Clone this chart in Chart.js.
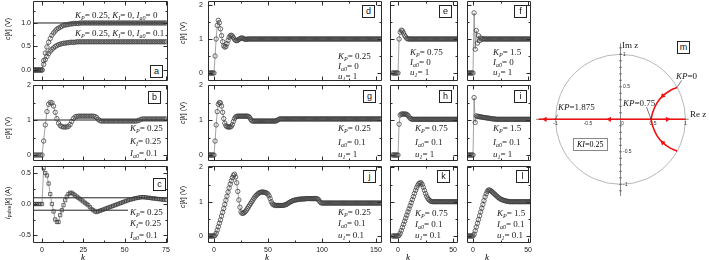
<!DOCTYPE html>
<html>
<head>
<meta charset="utf-8">
<script src="https://cdn.jsdelivr.net/npm/chart.js@4.4.1/dist/chart.umd.min.js"></script>
<style>
  html, body { margin: 0; padding: 0; background: #fff; }
  body { position: relative; width: 709px; height: 260px; overflow: hidden; }
  canvas { position: absolute; }
  .note { position: absolute; white-space: nowrap; font: 9px "Liberation Serif", serif; color: #1a1a1a; line-height: 1; transform: translateY(-50%); }
  .note i { font-style: italic; }
  .note sub { font-size: 6px; vertical-align: -2px; font-style: italic; line-height: 0; }
  .tag { position: absolute; width: 11px; height: 11px; border: 1px solid #222; font: 9px "Liberation Sans", sans-serif; text-align: center; line-height: 11px; background: #fff; color: #111; }
  .ytitle { position: absolute; white-space: nowrap; font: 7px "Liberation Sans", sans-serif; color: #1a1a1a; transform: translate(-50%, -50%) rotate(-90deg); line-height: 1; }
  .ytitle sub { font-size: 5px; vertical-align: -1px; line-height: 0; }
  .ktitle { position: absolute; font: italic 9px "Liberation Serif", serif; transform: translate(-50%, -50%); line-height: 1; }
  .kibox { position: absolute; border: 1px solid #888; font: 8px "Liberation Serif", serif; padding: 1px 3px; white-space: nowrap; }
</style>
</head>
<body>
<script>
// every series starts at k = -5, one value per sample
const kStart = -5;

// panel a
const seriesA0 = [0,0,0,0,0,0,
  0.2,0.36,0.49,0.59,0.67,0.74,0.79,0.83,0.87,0.89,
  0.91,0.93,0.95,0.96,0.96,0.97,0.98,0.98,0.99,0.99,
  0.99,0.99,1,1,1,1,1,1,1,1,
  1,1,1,1,1,1,1,1,1,1, 1,1,1,1,1,1,1,1,1,1,
  1,1,1,1,1,1,1,1,1,1, 1,1,1,1,1,1,1,1,1,1, 1,1,1,1,1];
const seriesA1 = [0,0,0,0,0,0,
  0.12,0.22,0.29,0.35,0.4,0.44,0.47,0.5,0.52,0.54,
  0.55,0.56,0.57,0.57,0.58,0.58,0.59,0.59,0.59,0.59,
  0.6,0.6,0.6,0.6,0.6,0.6,0.6,0.6,0.6,0.6, 0.6,0.6,0.6,0.6,0.6,0.6,0.6,0.6,0.6,0.6,
  0.6,0.6,0.6,0.6,0.6,0.6,0.6,0.6,0.6,0.6, 0.6,0.6,0.6,0.6,0.6,0.6,0.6,0.6,0.6,0.6,
  0.6,0.6,0.6,0.6,0.6,0.6,0.6,0.6,0.6,0.6, 0.6,0.6,0.6,0.6,0.6];
// panel b
const seriesB = [0,0,0,0,0,0,
  0.4,0.86,1.24,1.45,1.5,1.49,1.4,1.22,1.04,0.91,
  0.84,0.81,0.8,0.8,0.8,0.82,0.87,0.96,1.04,1.09,
  1.1,1.11,1.11,1.11,1.11,1.11,1.11,1.11,1.11,1.11,
  1.11,1.1,1.07,1.02,0.98,0.97,0.97,0.97,0.97,0.97,
  0.97,0.97,0.97,0.97,0.97,0.97,0.97,0.97,0.97,0.97,
  0.97,0.97,0.97,0.97,0.97,0.97,0.97,0.98,1,1.02,
  1.03,1.03,1.03,1.03,1.03,1.03,1.03,1.03,1.03,1.03,
  1.03,1.03,1.03,1.03,1.03];
// panel c (pulse current)
const seriesC = [0,0,0,0,0,0,
  0.58,0.5,0.46,0.33,0.16,0,-0.12,-0.25,-0.29,-0.29,
  -0.18,-0.1,-0.02,0.06,0.12,0.16,0.18,0.18,0.16,0.14,
  0.12,0.1,0.08,0.06,0.04,0.02,0,-0.02,-0.05,-0.08,
  -0.1,-0.12,-0.13,-0.12,-0.11,-0.1,-0.09,-0.08,-0.07,-0.06,
  -0.05,-0.04,-0.03,-0.02,-0.01,0,0.01,0.02,0.03,0.04,
  0.05,0.06,0.07,0.075,0.08,0.09,0.095,0.1,0.105,0.11,
  0.11,0.11,0.105,0.1,0.1,0.095,0.09,0.09,0.085,0.08,
  0.08,0.075,0.07,0.07,0.065];
// panel d
const seriesD = [0,0,0,0,0,0,
  0.5,1,1.4,1.55,1.48,1.3,1.1,0.92,0.8,0.76,
  0.78,0.86,0.96,1.05,1.1,1.11,1.09,1.04,0.99,0.96,
  0.95,0.96,0.99,1.01,1.03,1.03,1.02,1,0.99,0.99,
  1,1,1,1,1,1,1,1,1,1, 1,1,1,1,1,1,1,1,1,1, 1,1,1,1,1,1,1,1,1,1,
  1,1,1,1,1,1,1,1,1,1, 1,1,1,1,1,1,1,1,1,1, 1,1,1,1,1,1,1,1,1,1,
  1,1,1,1,1,1,1,1,1,1, 1,1,1,1,1,1,1,1,1,1, 1,1,1,1,1,1,1,1,1,1,
  1,1,1,1,1,1,1,1,1,1, 1,1,1,1,1,1,1,1,1,1, 1,1,1,1,1,1,1,1,1,1,
  1,1,1,1,1];
// panel g
const seriesG = [0,0,0,0,0,0,
  0.4,0.86,1.24,1.45,1.5,1.49,1.4,1.22,1.04,0.91,
  0.84,0.81,0.8,0.8,0.8,0.82,0.87,0.96,1.04,1.09,
  1.1,1.11,1.11,1.11,1.11,1.11,1.11,1.11,1.11,1.11,
  1.11,1.1,1.07,1.02,0.98,0.97,0.97,0.97,0.97,0.97,
  0.97,0.97,0.97,0.97,0.97,0.97,0.97,0.97,0.97,0.97,
  0.97,0.97,0.97,0.97,0.97,0.97,0.97,0.98,1,1.02,
  1.03,1.03,1.03,1.03,1.03,1.03,1.03,1.03,1.03,1.03,
  1.03,1.03,1.03,1.03,1.03,
  1.03,1.03,1.03,1.03,1.03,1.03,1.03,1.03,1.03,1.03,
  1.03,1.03,1.03,1.03,1.03,1.03,1.03,1.03,1.03,1.03,
  1.03,1.03,1.03,1.03,1.03,1.03,1.03,1.03,1.03,1.03,
  1.03,1.03,1.03,1.03,1.03,1.03,1.03,1.03,1.03,1.03,
  1.03,1.03,1.03,1.03,1.03,1.03,1.03,1.03,1.03,1.03,
  1.03,1.03,1.03,1.03,1.03,1.03,1.03,1.03,1.03,1.03,
  1.03,1.03,1.03,1.03,1.03,1.03,1.03,1.03,1.03,1.03,
  1.03,1.03,1.03,1.03,1.03,1.03,1.03,1.03,1.03,1.03];
// panel j
const seriesJ = [0,0,0,0,0,0,
  0.02,0.08,0.17,0.27,0.37,0.47,0.58,0.69,0.8,0.92,
  1.04,1.16,1.28,1.4,1.51,1.61,1.7,1.77,1.8,1.72,
  1.55,1.3,1.05,0.84,0.7,0.66,0.66,0.68,0.71,0.75,
  0.8,0.85,0.9,0.95,1,1.05,1.1,1.14,1.18,1.21,
  1.24,1.26,1.27,1.28,1.28,1.28,1.27,1.26,1.25,1.22,
  1.17,1.09,1,0.94,0.91,0.9,0.89,0.89,0.89,0.89,
  0.89,0.89,0.89,0.89,0.9,0.91,0.92,0.94,0.96,0.98,
  1,1.01,1.03,1.04,1.05,1.05,1.06,1.07,1.07,1.07,
  1.08,1.08,1.08,1.08,1.09,1.09,1.09,1.09,1.09,1.09,
  1.09,1.09,1.09,1.09,1.09,1.08,1.05,1,0.97,0.96,
  0.96,0.96,0.96,0.96,0.96,0.96,0.96,0.96,0.96,0.96,
  0.96,0.96,0.96,0.96,0.96,0.96,0.96,0.96,0.96,0.96,
  0.96,0.96,0.96,0.96,0.96,0.96,0.96,0.96,0.96,0.96,
  0.96,0.96,0.96,0.96,0.96,0.96,0.96,0.96,0.96,0.96,
  0.96,0.96,0.96,0.96,0.96,0.96,0.96,0.96,0.96,0.96,
  0.96,0.96,0.96,0.96,0.96];
// panels e, f
const seriesE = [0,0,0,0,0,0,
  1,1.2,1.26,1.24,1.18,1.11,1.06,1.02,1,1,
  1,1,1,1,1,1,1,1,1,1, 1,1,1,1,1,1,1,1,1,1, 1,1,1,1,1,1,1,1,1,1,
  1,1,1,1,1,1,1,1,1,1, 1,1,1,1,1];
const seriesF = [0,0,0,0,0,0,
  1.77,0.7,1.25,0.88,1.1,0.95,1.03,0.99,1.01,1,
  1,1,1,1,1,1,1,1,1,1, 1,1,1,1,1,1,1,1,1,1, 1,1,1,1,1,1,1,1,1,1,
  1,1,1,1,1,1,1,1,1,1, 1,1,1,1,1];
// panels h, i
const seriesH = [0,0,0,0,0,0,
  0.88,1.14,1.17,1.17,1.17,1.17,1.17,1.16,1.13,1.09,
  1.05,1.03,1.02,1.02,1.02,1.02,1.02,1.02,1.02,1.02,
  1.02,1.02,1.02,1.02,1.02,1.02,1.02,1.02,1.02,1.02,
  1.02,1.02,1.02,1.02,1.02,1.02,1.02,1.02,1.02,1.02,
  1.02,1.02,1.02,1.02,1.02,1.02,1.02,1.02,1.02,1.02,
  1.02,1.02,1.02,1.02,1.02];
const seriesI = [0,0,0,0,0,0,
  1.64,0.93,1.12,1.1,1.1,1.09,1.09,1.08,1.08,1.07,
  1.07,1.06,1.06,1.05,1.05,1.04,1.04,1.03,1.03,1.03,
  1.02,1.02,1.02,1.02,1.02,1.02,1.02,1.02,1.02,1.02,
  1.02,1.02,1.02,1.02,1.02,1.02,1.02,1.02,1.02,1.02,
  1.02,1.02,1.02,1.02,1.02,1.02,1.02,1.02,1.02,1.02,
  1.02,1.02,1.02,1.02,1.02];
// panels k, l
const seriesK = [0,0,0,0,0,0,
  0.02,0.08,0.16,0.25,0.34,0.43,0.52,0.61,0.7,0.79,
  0.88,0.97,1.06,1.15,1.24,1.33,1.41,1.48,1.53,1.55,
  1.55,1.5,1.42,1.33,1.24,1.16,1.1,1.06,1.03,1.01,
  1,1,1,1,1,1,1,1,1,1, 1,1,1,1,1,1,1,1,1,1, 1,1,1,1,1];
const seriesL = [0,0,0,0,0,0,
  0.05,0.15,0.26,0.37,0.48,0.59,0.7,0.81,0.92,1.03,
  1.14,1.23,1.3,1.34,1.34,1.32,1.3,1.27,1.24,1.21,
  1.18,1.15,1.12,1.1,1.08,1.06,1.05,1.04,1.03,1.02,
  1.01,1.01,1,1,1,1,1,1,1,1, 1,1,1,1,1,1,1,1,1,1, 1,1,1,1,1];

// tick labels
const ticksLeftX = [0, 25, 50, 75];
const minorLeftX = [12.5, 37.5, 62.5];
const ticksMidX = [0, 50, 100, 150];
const minorMidX = [25, 75, 125];
const ticksRightX = [0, 50];
const minorRightX = [25];
const ticksAY = [0, 0.5, 1];
const minorAY = [0.25, 0.75, 1.25];
const ticksY012 = [0, 1, 2];
const minorY012 = [0.5, 1.5];
const ticksCY = [-0.5, 0, 0.5];
const minorCY = [-0.25, 0.25];

// reference levels [level, k where the line stops]
const refA = [[1, null]];
const refB = [[1, null]];
const refC = [[0.1, null], [-0.1, 52]];

// root locus (panel m)
const reTicks = [-1, -0.5, 0, 0.5, 1];
const imTicks = [1, 0.5, -0.5, -1];
const locusAxisRe = [-1.26, 1];
const locusAxisIm = [0, 0];
const arcRe = [0.87, 0.76, 0.65, 0.56, 0.5, 0.47];
const arcUpperIm = [0.49, 0.44, 0.36, 0.25, 0.12, 0];
const arcLowerIm = [-0.49, -0.44, -0.36, -0.25, -0.12, 0];
const arrowRe = [-1.16, -0.17, 0.72, 0.65, 0.65];
const arrowIm = [0, 0, 0, 0.36, -0.36];
const arrowTurn = [270, 270, 90, 226, 314];
const gainRe = [-1, 0.47, 0.87];
const gainIm = [0, 0, 0.49];
const leaderRe = [-0.97, 0.4, 0.94];
const leaderIm = [0.07, 0.19, 0.6];

Chart.defaults.font.family = '"Liberation Sans", Arial, sans-serif';

const xy = s => s.map((v, i) => ({x: kStart + i, y: v}));

function frameFor(p) {
  return {
    id: 'frame',
    afterDatasetsDraw(chart) {
      const {ctx, chartArea: a, scales: {x, y}} = chart;
      const L = a.left + 0.5, R = a.right - 0.5, T = a.top + 0.5, B = a.bottom - 0.5;
      ctx.save();
      ctx.strokeStyle = '#2b2b2b';
      ctx.lineWidth = 1;
      ctx.beginPath();
      ctx.rect(L, T, R - L, B - T);
      const xTick = (v, len) => {
        const px = Math.round(x.getPixelForValue(v)) + 0.5;
        ctx.moveTo(px, B); ctx.lineTo(px, B - len);
        ctx.moveTo(px, T); ctx.lineTo(px, T + len);
      };
      const yTick = (v, len) => {
        const py = Math.round(y.getPixelForValue(v)) + 0.5;
        ctx.moveTo(L, py); ctx.lineTo(L + len, py);
        ctx.moveTo(R, py); ctx.lineTo(R - len, py);
      };
      p.xt.forEach(v => xTick(v, 4));
      p.xm.forEach(v => xTick(v, 2));
      p.yt.forEach(v => yTick(v, 4));
      p.ym.forEach(v => yTick(v, 2));
      ctx.stroke();
      ctx.restore();
    }
  };
}

function makePanel(p) {
  const [fl, ft, fr, fb] = p.frame;
  const padL = p.yLab ? 30 : 10, pad = 10, padB = p.xLab ? 14 : 10;
  const cv = document.createElement('canvas');
  cv.width = (fr - fl) + padL + pad;
  cv.height = (fb - ft) + pad + padB;
  cv.style.left = (fl - padL) + 'px';
  cv.style.top = (ft - pad) + 'px';
  document.body.appendChild(cv);

  const datasets = p.series.map(s => ({
    data: xy(s),
    borderColor: '#666',
    borderWidth: 0.6,
    pointStyle: p.square ? 'rect' : 'circle',
    pointRadius: p.square ? 2.3 : 2.2,
    pointBorderWidth: 0.75,
    pointBorderColor: '#3c3c3c',
    pointBackgroundColor: 'rgba(0,0,0,0)',
    tension: 0,
    order: 1
  }));
  (p.refs || []).forEach(([lvl, end]) => datasets.push({
    data: [{x: p.x[0], y: lvl}, {x: end === null ? p.x[1] : end, y: lvl}],
    borderColor: '#222',
    borderWidth: 1,
    pointRadius: 0,
    order: 2
  }));

  new Chart(cv, {
    type: 'line',
    data: {datasets},
    options: {
      responsive: false,
      animation: false,
      events: [],
      layout: {padding: {left: 0, top: pad, right: pad, bottom: p.xLab ? 0 : padB}},
      plugins: {legend: {display: false}, tooltip: {enabled: false}},
      scales: {
        x: {
          type: 'linear', min: p.x[0], max: p.x[1],
          afterFit: s => { s.height = p.xLab ? padB : 0; },
          afterBuildTicks: s => { s.ticks = p.xt.map(v => ({value: v})); },
          grid: {display: false, drawTicks: false},
          border: {display: false},
          ticks: {display: !!p.xLab, font: {size: 7}, color: '#222', padding: 3, maxRotation: 0, autoSkip: false}
        },
        y: {
          type: 'linear', min: p.y[0], max: p.y[1],
          afterFit: s => { s.width = padL; },
          afterBuildTicks: s => { s.ticks = p.yt.map(v => ({value: v})); },
          grid: {display: false, drawTicks: false},
          border: {display: false},
          ticks: {display: !!p.yLab, font: {size: 7}, color: '#222', padding: p.yPad || 2,
            callback: v => p.dec ? v.toFixed(1) : String(v)}
        }
      }
    },
    plugins: [frameFor(p)]
  });
}

const rowTop = [1, 85, 166], rowBot = [81, 161, 243];
const colL = [33, 208, 390, 467], colR = [168, 382, 458, 531];

const panels = [
  {frame: [colL[0], rowTop[0], colR[0], rowBot[0]], x: [-5.44, 76.2], y: [-0.234, 1.468],
   xt: ticksLeftX, xm: minorLeftX, yt: ticksAY, ym: minorAY, yLab: true, dec: true,
   series: [seriesA0, seriesA1], refs: refA},
  {frame: [colL[0], rowTop[1], colR[0], rowBot[1]], x: [-5.44, 76.2], y: [-0.171, 2],
   xt: ticksLeftX, xm: minorLeftX, yt: ticksY012, ym: minorY012, yLab: true,
   series: [seriesB], refs: refB},
  {frame: [colL[0], rowTop[2], colR[0], rowBot[2]], x: [-5.44, 76.2], y: [-0.629, 0.613],
   xt: ticksLeftX, xm: minorLeftX, yt: ticksCY, ym: minorCY, yLab: true, xLab: true, dec: true, square: true,
   series: [seriesC], refs: refC},
  {frame: [colL[1], rowTop[0], colR[1], rowBot[0]], x: [-5.56, 155.6], y: [-0.235, 2.118],
   xt: ticksMidX, xm: minorMidX, yt: ticksY012, ym: minorY012, yLab: true, yPad: 5, series: [seriesD]},
  {frame: [colL[1], rowTop[1], colR[1], rowBot[1]], x: [-5.56, 155.6], y: [-0.171, 2],
   xt: ticksMidX, xm: minorMidX, yt: ticksY012, ym: minorY012, yLab: true, yPad: 5, series: [seriesG]},
  {frame: [colL[1], rowTop[2], colR[1], rowBot[2]], x: [-5.56, 155.6], y: [-0.204, 2.04],
   xt: ticksMidX, xm: minorMidX, yt: ticksY012, ym: minorY012, yLab: true, yPad: 5, xLab: true, series: [seriesJ]},
  {frame: [colL[2], rowTop[0], colR[2], rowBot[0]], x: [-7.27, 54.5], y: [-0.235, 2.118],
   xt: ticksRightX, xm: minorRightX, yt: ticksY012, ym: minorY012, series: [seriesE]},
  {frame: [colL[2], rowTop[1], colR[2], rowBot[1]], x: [-7.27, 54.5], y: [-0.171, 2],
   xt: ticksRightX, xm: minorRightX, yt: ticksY012, ym: minorY012, series: [seriesH]},
  {frame: [colL[2], rowTop[2], colR[2], rowBot[2]], x: [-7.27, 54.5], y: [-0.204, 2.04],
   xt: ticksRightX, xm: minorRightX, yt: ticksY012, ym: minorY012, xLab: true, series: [seriesK]},
  {frame: [colL[3], rowTop[0], colR[3], rowBot[0]], x: [-5.45, 52.7], y: [-0.235, 2.118],
   xt: ticksRightX, xm: minorRightX, yt: ticksY012, ym: minorY012, series: [seriesF]},
  {frame: [colL[3], rowTop[1], colR[3], rowBot[1]], x: [-5.45, 52.7], y: [-0.171, 2],
   xt: ticksRightX, xm: minorRightX, yt: ticksY012, ym: minorY012, series: [seriesI]},
  {frame: [colL[3], rowTop[2], colR[3], rowBot[2]], x: [-5.45, 52.7], y: [-0.204, 2.04],
   xt: ticksRightX, xm: minorRightX, yt: ticksY012, ym: minorY012, xLab: true, series: [seriesL]}
];
panels.forEach(makePanel);

// ---- root locus in the z-plane ----
const planePlugin = {
  id: 'plane',
  beforeDatasetsDraw(chart) {
    const {ctx, scales: {x, y}} = chart;
    const px = v => x.getPixelForValue(v), py = v => y.getPixelForValue(v);
    ctx.save();
    ctx.strokeStyle = '#9a9a9a';
    ctx.lineWidth = 0.7;
    ctx.beginPath();
    ctx.arc(px(0), py(0), px(1) - px(0), 0, 2 * Math.PI);
    ctx.stroke();
    ctx.strokeStyle = '#555';
    ctx.beginPath();
    ctx.moveTo(px(-1.3), py(0)); ctx.lineTo(px(1.05), py(0));
    ctx.moveTo(px(0), py(1.17)); ctx.lineTo(px(0), py(-1.18));
    for (let v = -1.1; v <= 1.11; v += 0.1) {
      ctx.moveTo(px(0) - 1.5, py(v)); ctx.lineTo(px(0) + 1.5, py(v));
    }
    ctx.stroke();
    ctx.fillStyle = '#333';
    ctx.font = '5px "Liberation Sans", sans-serif';
    ctx.textBaseline = 'top';
    ctx.textAlign = 'center';
    reTicks.forEach(v => ctx.fillText(String(v), px(v) + (v === 0 ? 2 : 0), py(0) + 2));
    ctx.textAlign = 'left';
    ctx.textBaseline = 'middle';
    imTicks.forEach(v => ctx.fillText(String(v), px(0) + 2.5, py(v)));
    ctx.restore();
  },
  afterDatasetsDraw(chart) {
    const {ctx, scales: {x, y}} = chart;
    ctx.save();
    ctx.strokeStyle = '#222';
    ctx.lineWidth = 0.6;
    ctx.beginPath();
    gainRe.forEach((g, i) => {
      ctx.moveTo(x.getPixelForValue(leaderRe[i]), y.getPixelForValue(leaderIm[i]));
      ctx.lineTo(x.getPixelForValue(g), y.getPixelForValue(gainIm[i]));
    });
    ctx.stroke();
    ctx.restore();
  }
};

const cvM = document.createElement('canvas');
cvM.width = 192; cvM.height = 188;
cvM.style.left = '525px'; cvM.style.top = '20px';
document.body.appendChild(cvM);
const pts = (re, im) => re.map((r, i) => ({x: r, y: im[i]}));
new Chart(cvM, {
  type: 'scatter',
  data: {datasets: [
    {data: pts(locusAxisRe, locusAxisIm), showLine: true, borderColor: '#f01010', borderWidth: 1.6, pointRadius: 0},
    {data: pts(arcRe, arcUpperIm), showLine: true, borderColor: '#f01010', borderWidth: 1.6, pointRadius: 0, tension: 0.4},
    {data: pts(arcRe, arcLowerIm), showLine: true, borderColor: '#f01010', borderWidth: 1.6, pointRadius: 0, tension: 0.4},
    {data: pts(arrowRe, arrowIm), pointStyle: 'triangle', pointRadius: 3, pointRotation: arrowTurn,
     pointBackgroundColor: '#f01010', pointBorderColor: '#f01010', pointBorderWidth: 0}
  ]},
  options: {
    responsive: false, animation: false, events: [],
    layout: {padding: 8},
    plugins: {legend: {display: false}, tooltip: {enabled: false}},
    scales: {
      x: {type: 'linear', display: false, min: -1.3462, max: 1.3615},
      y: {type: 'linear', display: false, min: -1.2415, max: 1.4046}
    }
  },
  plugins: [planePlugin]
});

// ---- text overlays ----
const KP = '<i>K</i><sub>P</sub>', KI = '<i>K</i><sub>I</sub>', IA = '<i>I</i><sub>a0</sub>', U1 = '<i>u</i><sub>1</sub>';
const notes = [
  [75, 15, `${KP}= 0.25, ${KI}= 0, ${IA}= 0`],
  [75, 33, `${KP}= 0.25, ${KI}= 0, ${IA}= 0.1`],
  [130, 128, `${KP}= 0.25`], [130, 141, `${KI}= 0.25`], [130, 153, `${IA}= 0.1`],
  [130, 212, `${KP}= 0.25`], [130, 223, `${KI}= 0.25`], [130, 235, `${IA}= 0.1`],
  [338, 56, `${KP}= 0.25`], [338, 66, `${IA}= 0`], [338, 76, `${U1}= 1`],
  [410, 52, `${KP}= 0.75`], [410, 62, `${IA}= 0`], [410, 72, `${U1}= 1`],
  [493, 52, `${KP}= 1.5`], [493, 62, `${IA}= 0`], [493, 72, `${U1}= 1`],
  [338, 128, `${KP}= 0.25`], [338, 142, `${IA}= 0.1`], [338, 154, `${U1}= 1`],
  [415, 128, `${KP}= 0.75`], [415, 142, `${IA}= 0.1`], [415, 154, `${U1}= 1`],
  [493, 128, `${KP}= 1.5`], [493, 142, `${IA}= 0.1`], [493, 154, `${U1}= 1`],
  [338, 212, `${KP}= 0.25`], [338, 223, `${IA}= 0.1`], [338, 235, `${U1}= 0.1`],
  [415, 213, `${KP}= 0.75`], [415, 224, `${IA}= 0.1`], [415, 235, `${U1}= 0.1`],
  [497, 213, `${KP}= 1.5`], [497, 224, `${IA}= 0.1`], [497, 235, `${U1}= 0.1`],
  [622, 45, 'Im z'], [690, 114, 'Re z'],
  [558, 107, '<i>KP</i>=1.875'], [623, 103, '<i>KP</i>=0.75'], [676, 76, '<i>KP</i>=0']
];
notes.forEach(([l, cy, html]) => {
  const d = document.createElement('div');
  d.className = 'note';
  d.style.left = l + 'px'; d.style.top = cy + 'px';
  d.innerHTML = html;
  document.body.appendChild(d);
});

const tags = [[150, 65, 'a'], [148, 91, 'b'], [153, 178, 'c'], [362, 5, 'd'], [439, 5, 'e'], [514, 5, 'f'],
  [363, 90, 'g'], [439, 90, 'h'], [514, 90, 'i'], [363, 170, 'j'], [437, 170, 'k'], [516, 170, 'l'], [677, 41, 'm']];
tags.forEach(([l, t, s]) => {
  const d = document.createElement('div');
  d.className = 'tag';
  d.style.left = l + 'px'; d.style.top = t + 'px';
  d.textContent = s;
  document.body.appendChild(d);
});

const ck = '<i>c</i>[<i>k</i>] (V)';
const yTitles = [[7, 29, ck], [7, 128, ck], [7, 203, '<i>I</i><sub>pulse</sub>[<i>k</i>] (A)'],
  [182, 33, ck], [182, 113, ck], [182, 197, ck]];
yTitles.forEach(([cx, cy, html]) => {
  const d = document.createElement('div');
  d.className = 'ytitle';
  d.style.left = cx + 'px'; d.style.top = cy + 'px';
  d.innerHTML = html;
  document.body.appendChild(d);
});

[[83, 257], [267, 257], [408, 257], [487, 257]].forEach(([cx, cy]) => {
  const d = document.createElement('div');
  d.className = 'ktitle';
  d.style.left = cx + 'px'; d.style.top = cy + 'px';
  d.textContent = 'k';
  document.body.appendChild(d);
});

const ki = document.createElement('div');
ki.className = 'kibox';
ki.style.left = '573px'; ki.style.top = '138px';
ki.innerHTML = '<i>KI</i>=0.25';
document.body.appendChild(ki);
</script>
</body>
</html>
